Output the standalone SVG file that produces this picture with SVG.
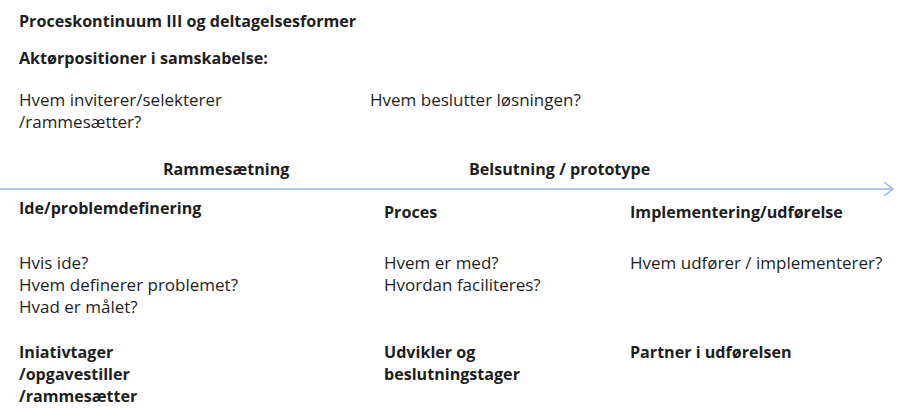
<svg xmlns="http://www.w3.org/2000/svg" width="898" height="410" viewBox="0 0 898 410">
<style>
text{font-family:"Open Sans","Liberation Sans",Arial,sans-serif;font-size:17px;fill:#1e1e1e}
.b{font-weight:bold;font-size:16.1px}
.conn{stroke:#94b8dc;stroke-width:1.5;fill:none}
</style>
<rect width="898" height="410" fill="#ffffff"/>
<g id="header">
<text class="b" x="19" y="27">Proceskontinuum III og deltagelsesformer</text>
<text class="b" x="19" y="64">Aktørpositioner i samskabelse:</text>
</g>
<g id="q-invite">
<text x="19" y="106">Hvem inviterer/selekterer</text>
<text x="19" y="128">/rammesætter?</text>
</g>
<g id="q-decide">
<text x="370" y="106">Hvem beslutter løsningen?</text>
</g>
<g id="phase-labels">
<text class="b" x="163" y="175">Rammesætning</text>
<text class="b" x="469" y="175">Belsutning / prototype</text>
</g>
<g id="connectors">
<line class="conn" x1="0" y1="189" x2="893" y2="189"/>
<polyline class="conn" points="884,182 893,189 884,196"/>
</g>
<g id="col1">
<text class="b" x="19" y="214">Ide/problemdefinering</text>
<text x="19" y="269">Hvis ide?</text>
<text x="19" y="291">Hvem definerer problemet?</text>
<text x="19" y="313">Hvad er målet?</text>
<text class="b" x="19" y="358">Iniativtager</text>
<text class="b" x="19" y="380">/opgavestiller</text>
<text class="b" x="19" y="402">/rammesætter</text>
</g>
<g id="col2">
<text class="b" x="384" y="218">Proces</text>
<text x="384" y="269">Hvem er med?</text>
<text x="384" y="291">Hvordan faciliteres?</text>
<text class="b" x="384" y="358">Udvikler og</text>
<text class="b" x="384" y="380">beslutningstager</text>
</g>
<g id="col3">
<text class="b" x="630" y="218">Implementering/udførelse</text>
<text x="630" y="269">Hvem udfører / implementerer?</text>
<text class="b" x="630" y="358">Partner i udførelsen</text>
</g>
</svg>
